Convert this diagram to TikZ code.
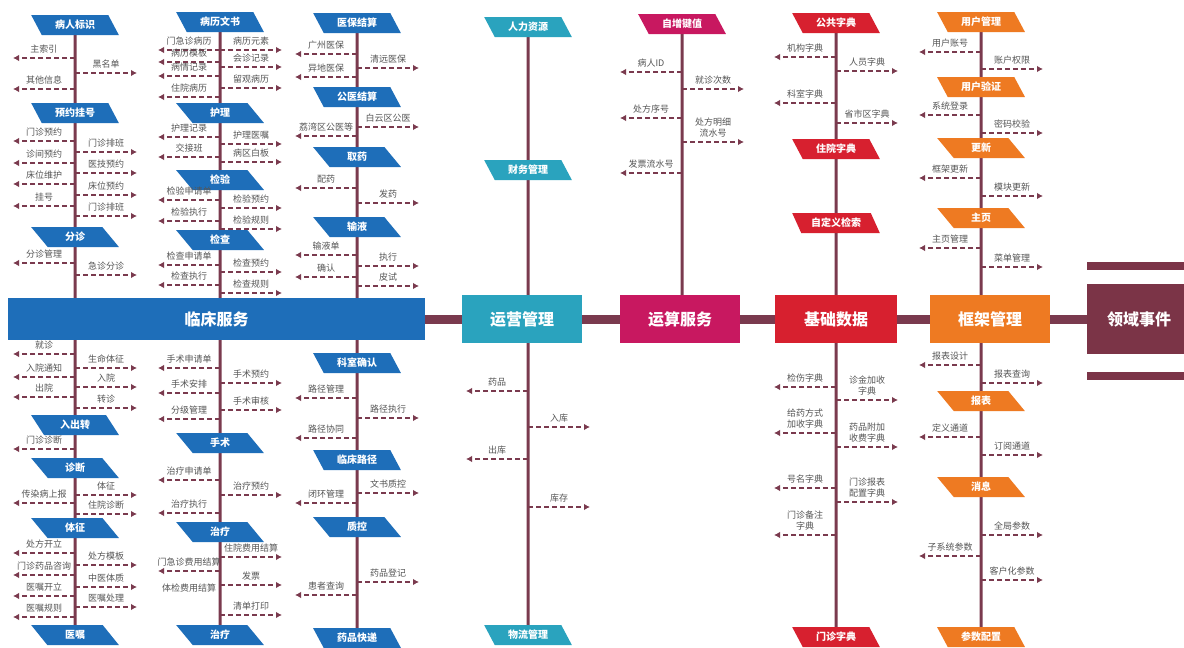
\documentclass[tikz,border=0pt]{standalone}
\usepackage{fontspec}
\setmainfont{Noto Sans CJK SC}
\usetikzlibrary{shapes.geometric,arrows.meta,backgrounds}

\definecolor{cBlue}{HTML}{1E6EB9}
\definecolor{cTeal}{HTML}{2AA3BE}
\definecolor{cMag}{HTML}{C81860}
\definecolor{cRed}{HTML}{D7202F}
\definecolor{cOrg}{HTML}{EE7A22}
\definecolor{cLine}{HTML}{7A3A4E}
\definecolor{cDom}{HTML}{7B3447}
\definecolor{cText}{HTML}{555555}

\newcounter{arr}
\newcommand{\itemL}[3]{\stepcounter{arr}%
  \coordinate (s\thearr) at (#1,#2);
  \coordinate (e\thearr) at (#1-62,#2);
  \draw[itemarrow] (s\thearr) -- node[itemtext] (n\thearr) {#3} (e\thearr);}
\newcommand{\itemR}[3]{\stepcounter{arr}%
  \coordinate (s\thearr) at (#1,#2);
  \coordinate (e\thearr) at (#1+62,#2);
  \draw[itemarrow] (s\thearr) -- node[itemtext] (n\thearr) {#3} (e\thearr);}

\begin{document}
\begin{tikzpicture}[x=1pt,y=-1pt,
  tag/.style={trapezium,trapezium left angle=120,trapezium right angle=60,trapezium stretches=true,minimum width=88pt,minimum height=20pt,inner sep=1pt,text=white,font=\fontsize{10}{12}\selectfont\bfseries},
  tagB/.style={tag,fill=cBlue},tagT/.style={tag,fill=cTeal},tagM/.style={tag,fill=cMag},tagR/.style={tag,fill=cRed},tagO/.style={tag,fill=cOrg},
  mainbox/.style={rectangle,minimum width=120pt,minimum height=48pt,inner sep=0pt,text=white,font=\fontsize{16}{18}\selectfont\bfseries},
  stem/.style={draw=cLine,line width=3pt},
  spine/.style={draw=cLine,line width=9pt},
  itemarrow/.style={cLine,line width=2.2pt,dash pattern=on 5pt off 3pt,-{Latex[length=6pt,width=6.5pt]}},
  itemtext/.style={above,yshift=2.5pt,inner sep=1pt,text=cText,align=center,font=\fontsize{9}{11}\selectfont}]
\def\xa{75}
\def\xb{220}
\def\xc{357}
\def\xd{528}
\def\xe{682}
\def\xf{836}
\def\xg{981}

\useasboundingbox (0,0) rectangle (1184,648);

\node[mainbox,fill=cBlue,minimum width=417pt,minimum height=42pt] (lc) at (216.5,319) {临床服务};
\node[mainbox,fill=cTeal] (ops) at (522,319) {运营管理};
\node[mainbox,fill=cMag] (calc) at (680,319) {运算服务};
\node[mainbox,fill=cRed,minimum width=122pt] (base) at (836,319) {基础数据};
\node[mainbox,fill=cOrg] (frame) at (990,319) {框架管理};
\node[mainbox,fill=cDom,minimum width=104pt,minimum height=70pt] (dom) at (1139,319) {领域事件};
\fill[cDom] (1087,262) rectangle (1192,270);
\fill[cDom] (1087,372) rectangle (1192,380);

\node[tagB] (a1) at (\xa,25) {病人标识};
\node[tagB] (a2) at (\xa,113) {预约挂号};
\node[tagB] (a3) at (\xa,237) {分诊};
\node[tagB] (a4) at (\xa,425) {入出转};
\node[tagB] (a5) at (\xa,468) {诊断};
\node[tagB] (a6) at (\xa,528) {体征};
\node[tagB] (a7) at (\xa,635) {医嘱};
\foreach \y/\txt in {58/主索引,89/其他信息,141/门诊预约,163/诊间预约,184/床位维护,206/挂号,263/分诊管理,354/就诊,377/入院通知,397/出院,449/门诊诊断,503/传染病上报,553/处方开立,575/门诊药品咨询,596/医嘱开立,617/医嘱规则}
  {\itemL{\xa}{\y}{\txt}}
\foreach \y/\txt in {73/黑名单,152/门诊排班,173/医技预约,195/床位预约,216/门诊排班,275/急诊分诊,368/生命体征,387/入院,408/转诊,495/体征,514/住院诊断,565/处方模板,587/中医体质,607/医嘱处理}
  {\itemR{\xa}{\y}{\txt}}

\node[tagB] (b1) at (\xb,22) {病历文书};
\node[tagB] (b2) at (\xb,113) {护理};
\node[tagB] (b3) at (\xb,180) {检验};
\node[tagB] (b4) at (\xb,240) {检查};
\node[tagB] (b5) at (\xb,443) {手术};
\node[tagB] (b6) at (\xb,532) {治疗};
\node[tagB] (b7) at (\xb,635) {治疗};
\foreach \y/\txt in {50/门急诊病历,62/病历模板,76/病情记录,97/住院病历,137/护理记录,157/交接班,200/检验申请单,221/检验执行,265/检查申请单,285/检查执行,368/手术申请单,393/手术安排,419/分级管理,480/治疗申请单,513/治疗执行,571/门急诊费用结算}
  {\itemL{\xb}{\y}{\txt}}
\foreach \y/\txt in {50/病历元素,67/会诊记录,88/留观病历,144/护理医嘱,162/病区白板,208/检验预约,229/检验规则,272/检查预约,293/检查规则,383/手术预约,410/手术审核,495/治疗预约,557/住院费用结算,585/发票,615/清单打印}
  {\itemR{\xb}{\y}{\txt}}
\node[itemtext] (bnote) at (\xb-31,596) {体检费用结算};

\node[tagB] (c1) at (\xc,23) {医保结算};
\node[tagB] (c2) at (\xc,97) {公医结算};
\node[tagB] (c3) at (\xc,157) {取药};
\node[tagB] (c4) at (\xc,227) {输液};
\node[tagB] (c5) at (\xc,363) {科室确认};
\node[tagB] (c6) at (\xc,460) {临床路径};
\node[tagB] (c7) at (\xc,527) {质控};
\node[tagB] (c8) at (\xc,638) {药品快递};
\foreach \y/\txt in {54/广州医保,77/异地医保,136/荔湾区公医等,188/配药,255/输液单,277/确认,398/路径管理,438/路径协同,503/闭环管理,595/患者查询}
  {\itemL{\xc}{\y}{\txt}}
\foreach \y/\txt in {68/清远医保,127/白云区公医,203/发药,266/执行,286/皮试,418/路径执行,493/文书质控,582/药品登记}
  {\itemR{\xc}{\y}{\txt}}

\node[tagT] (d1) at (\xd,27) {人力资源};
\node[tagT] (d2) at (\xd,170) {财务管理};
\node[tagT] (d3) at (\xd,635) {物流管理};
\foreach \y/\txt in {391/药品,459/出库}
  {\itemL{\xd}{\y}{\txt}}
\foreach \y/\txt in {427/入库,507/库存}
  {\itemR{\xd}{\y}{\txt}}

\node[tagM] (e1) at (\xe,24) {自增键值};
\foreach \y/\txt in {72/病人ID,118/处方序号,173/发票流水号}
  {\itemL{\xe}{\y}{\txt}}
\foreach \y/\txt in {89/就诊次数,142/{处方明细\\流水号}}
  {\itemR{\xe}{\y}{\txt}}

\node[tagR] (f1) at (\xf,23) {公共字典};
\node[tagR] (f2) at (\xf,149) {住院字典};
\node[tagR] (f3) at (\xf,223) {自定义检索};
\node[tagR] (f4) at (\xf,637) {门诊字典};
\foreach \y/\txt in {57/机构字典,103/科室字典,387/检伤字典,433/{给药方式\\加收字典},488/号名字典,535/{门诊备注\\字典}}
  {\itemL{\xf}{\y}{\txt}}
\foreach \y/\txt in {71/人员字典,123/省市区字典,400/{诊金加收\\字典},447/{药品附加\\收费字典},502/{门诊报表\\配置字典}}
  {\itemR{\xf}{\y}{\txt}}

\node[tagO] (g1) at (\xg,22) {用户管理};
\node[tagO] (g2) at (\xg,87) {用户验证};
\node[tagO] (g3) at (\xg,148) {更新};
\node[tagO] (g4) at (\xg,218) {主页};
\node[tagO] (g5) at (\xg,401) {报表};
\node[tagO] (g6) at (\xg,487) {消息};
\node[tagO] (g7) at (\xg,637) {参数配置};
\foreach \y/\txt in {52/用户账号,115/系统登录,178/框架更新,248/主页管理,365/报表设计,437/定义通道,556/子系统参数}
  {\itemL{\xg}{\y}{\txt}}
\foreach \y/\txt in {69/账户权限,133/密码校验,196/模块更新,267/菜单管理,383/报表查询,455/订阅通道,535/全局参数,580/客户化参数}
  {\itemR{\xg}{\y}{\txt}}

\begin{scope}[on background layer]
\fill[white] (0,0) rectangle (1184,648);
\draw[spine] (lc) -- (ops) -- (calc) -- (base) -- (frame) -- (dom);
\draw[stem] (a1) -- (a1 |- lc.north);
\draw[stem] (lc.south -| a7) -- (a7);
\draw[stem] (b1) -- (b1 |- lc.north);
\draw[stem] (lc.south -| b7) -- (b7);
\draw[stem] (c1) -- (c1 |- lc.north);
\draw[stem] (lc.south -| c8) -- (c8);
\draw[stem] (d1) -- (d1 |- ops.north);
\draw[stem] (ops.south -| d3) -- (d3);
\draw[stem] (e1) -- (e1 |- calc.north);
\draw[stem] (f1) -- (f1 |- base.north);
\draw[stem] (base.south -| f4) -- (f4);
\draw[stem] (g1) -- (g1 |- frame.north);
\draw[stem] (frame.south -| g7) -- (g7);
\end{scope}
\end{tikzpicture}
\end{document}
